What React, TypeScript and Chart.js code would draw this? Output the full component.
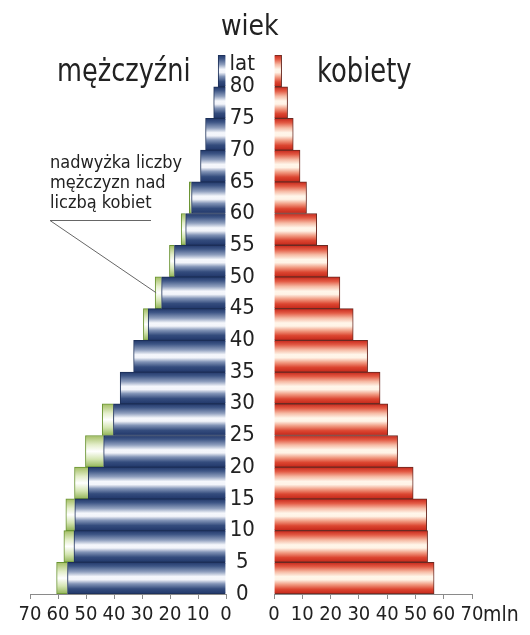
import React, { useEffect, useRef } from 'react';
import { Chart, registerables } from 'chart.js';

Chart.register(...registerables);

// ---- data (mln persons), age groups 0-4 ... 80+ ----
const ageStart = [0, 5, 10, 15, 20, 25, 30, 35, 40, 45, 50, 55, 60, 65, 70, 75, 80];
const ageTickValues = [0, 5, 10, 15, 20, 25, 30, 35, 40, 45, 50, 55, 60, 65, 70, 75, 80, 83.5];
const ageTickLabels = ['0', '5', '10', '15', '20', '25', '30', '35', '40', '45', '50', '55', '60', '65', '70', '75', '80', 'lat'];
const women = [56.6, 54.3, 54.0, 49.2, 43.7, 40.2, 37.5, 33.1, 28.0, 23.3, 19.0, 15.1, 11.5, 9.2, 6.8, 4.8, 2.7];
const menBase = [56.6, 54.3, 54.0, 49.2, 43.7, 40.2, 37.8, 33.0, 27.8, 23.0, 18.4, 14.4, 12.3, 9.1, 7.3, 4.4, 2.8];
const menExcess = [3.9, 3.6, 3.2, 4.9, 6.5, 4.0, 0, 0, 1.7, 2.3, 1.8, 1.6, 0.8, 0, 0, 0, 0];
const xTickValues = [0, 10, 20, 30, 40, 50, 60, 70];

const FONT = "'Liberation Sans Narrow', 'DejaVu Sans Condensed', 'Liberation Sans', Arial, sans-serif";
const TXT = '#222';

type Stops = [number, string][];
const blueStops: Stops = [[0, '#22386a'], [0.12, '#3e5686'], [0.3, '#8e9ebd'], [0.45, '#f5f7fc'], [0.55, '#f2f4fa'], [0.68, '#8193b6'], [0.84, '#344c7d'], [1, '#21376a']];
const redStops: Stops = [[0, '#c6261a'], [0.14, '#e35b45'], [0.3, '#f6baa4'], [0.45, '#fff6ea'], [0.55, '#fff3e6'], [0.7, '#f19b82'], [0.85, '#dc4631'], [1, '#c42619']];
const greenStops: Stops = [[0, '#a2bd62'], [0.3, '#e4eecb'], [0.5, '#ffffff'], [0.75, '#d4e5b2'], [1, '#92b458']];

function stripe(stops: Stops) {
  return (ctx: any) => {
    const chart = ctx.chart;
    const ys = chart.scales && chart.scales.y;
    const i = ctx.dataIndex;
    if (!ys || !chart.chartArea || i === undefined || ageStart[i] === undefined) return stops[3][1];
    const top = ys.getPixelForValue(ageStart[i] + 5);
    const bot = ys.getPixelForValue(ageStart[i]);
    const g = chart.ctx.createLinearGradient(0, top, 0, bot);
    stops.forEach(([o, c]) => g.addColorStop(o, c));
    return g;
  };
}

const pts = (vals: number[]) => vals.map((v, i) => ({ x: v, y: ageStart[i] + 2.5 }));

const xAxis = (reverse: boolean) => ({
  type: 'linear' as const,
  min: 0,
  max: 70,
  reverse,
  stacked: true,
  afterBuildTicks: (axis: any) => {
    axis.ticks = xTickValues.map((v) => ({ value: v }));
  },
  afterFit: (axis: any) => {
    axis.height = 41;
  },
  grid: { display: true, drawOnChartArea: false, drawTicks: true, tickLength: 5, color: '#8a8a8a', lineWidth: 1 },
  border: { display: true, color: '#8a8a8a', width: 1 },
  ticks: { font: { family: FONT, size: 20 }, color: TXT, padding: 4, maxRotation: 0, autoSkip: false },
});

const barOpts = { categoryPercentage: 1, barPercentage: 1, barThickness: 'flex' };

const leaderPlugin = {
  id: 'leader',
  afterDraw(chart: any) {
    const c = chart.ctx;
    const xs = chart.scales.x;
    const ys = chart.scales.y;
    const i = 9;
    const ex = xs.getPixelForValue(menBase[i] + menExcess[i]);
    const ey = ys.getPixelForValue(ageStart[i] + 2.5);
    c.save();
    c.strokeStyle = '#666';
    c.lineWidth = 1;
    c.beginPath();
    c.moveTo(151, 220.5);
    c.lineTo(50, 220.5);
    c.lineTo(ex + 1, ey);
    c.stroke();
    c.restore();
  },
};

function MenChart() {
  const ref = useRef<HTMLCanvasElement>(null);
  useEffect(() => {
    const chart = new Chart(ref.current!, {
      type: 'bar',
      data: {
        datasets: [
          {
            label: 'mężczyźni',
            data: pts(menBase),
            backgroundColor: stripe(blueStops),
            borderColor: '#1c2f58',
            borderWidth: 1,
          },
          {
            label: 'nadwyżka',
            data: pts(menExcess),
            backgroundColor: stripe(greenStops),
            borderColor: '#6a9432',
            borderWidth: 1,
          },
        ],
      },
      options: {
        indexAxis: 'y',
        responsive: false,
        animation: false,
        events: [],
        datasets: { bar: barOpts },
        layout: { padding: { left: 30, right: 24, top: 55, bottom: 0 } },
        plugins: { legend: { display: false }, tooltip: { enabled: false } },
        scales: {
          x: xAxis(true),
          y: { type: 'linear', min: 0, max: 85, stacked: true, offset: false, grid: { offset: false }, display: false },
        },
      } as any,
      plugins: [leaderPlugin],
    });
    return () => chart.destroy();
  }, []);
  return <canvas ref={ref} width={250} height={635} style={{ position: 'absolute', left: 0, top: 0 }} />;
}

function WomenChart() {
  const ref = useRef<HTMLCanvasElement>(null);
  useEffect(() => {
    const chart = new Chart(ref.current!, {
      type: 'bar',
      data: {
        datasets: [
          {
            label: 'kobiety',
            data: pts(women),
            backgroundColor: stripe(redStops),
            borderColor: '#6a2a22',
            borderWidth: 1,
          },
        ],
      },
      options: {
        indexAxis: 'y',
        responsive: false,
        animation: false,
        events: [],
        datasets: { bar: barOpts },
        layout: { padding: { left: 0, right: 58, top: 55, bottom: 0 } },
        plugins: { legend: { display: false }, tooltip: { enabled: false } },
        scales: {
          x: xAxis(false),
          y: {
            type: 'linear',
            min: 0,
            max: 85,
            stacked: true,
            offset: false,
            position: 'left',
            afterBuildTicks: (axis: any) => {
              axis.ticks = ageTickValues.map((v) => ({ value: v }));
            },
            afterFit: (axis: any) => {
              axis.width = 44;
            },
            grid: { display: false, offset: false },
            border: { display: false },
            ticks: {
              font: { family: FONT, size: 22 },
              color: TXT,
              padding: 11,
              crossAlign: 'center',
              autoSkip: false,
              callback: (_v: any, i: number) => ageTickLabels[i],
            },
          },
        },
      } as any,
    });
    return () => chart.destroy();
  }, []);
  return <canvas ref={ref} width={300} height={635} style={{ position: 'absolute', left: 230, top: 0 }} />;
}

const txt = (extra: React.CSSProperties): React.CSSProperties => ({
  position: 'absolute',
  fontFamily: FONT,
  color: TXT,
  lineHeight: 1,
  whiteSpace: 'nowrap',
  transformOrigin: 'left top',
  ...extra,
});

export default function App() {
  return (
    <div style={{ position: 'absolute', left: 0, top: 0, width: 530, height: 635, background: '#fff', overflow: 'hidden' }}>
      <MenChart />
      <WomenChart />
      <div style={txt({ left: 221, top: 12, fontSize: 28 })}>wiek</div>
      <div style={txt({ left: 57, top: 54, fontSize: 32, transform: 'scaleX(0.89)' })}>mężczyźni</div>
      <div style={txt({ left: 317, top: 54, fontSize: 33, transform: 'scaleX(0.87)' })}>kobiety</div>
      <div style={txt({ left: 50, top: 152, fontSize: 18, lineHeight: '20px' })}>
        nadwyżka liczby<br />mężczyzn nad<br />liczbą kobiet
      </div>
      <div style={txt({ left: 483, top: 604, fontSize: 21 })}>mln</div>
    </div>
  );
}
